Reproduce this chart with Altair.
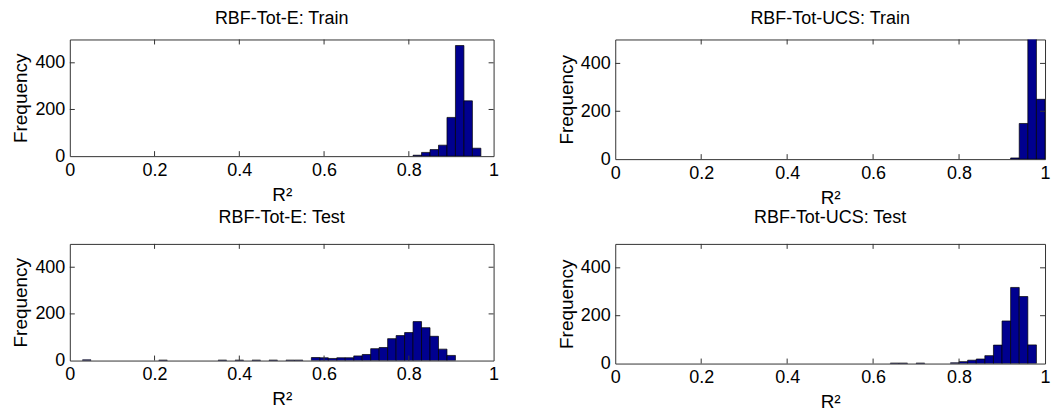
import altair as alt
import pandas as pd

# Histogram bins are 0.02 wide; each list below holds bin centres and counts.
BIN_WIDTH = 0.02

e_train_centers = [0.82, 0.84, 0.86, 0.88, 0.90, 0.92, 0.94, 0.96]
e_train_counts = [4, 16, 28, 47, 166, 474, 237, 34]

ucs_train_centers = [0.93, 0.95, 0.97, 0.99]
ucs_train_counts = [5, 149, 595, 250]

e_test_centers = [0.04, 0.22, 0.36, 0.40, 0.44, 0.48, 0.52, 0.54,
                  0.58, 0.60, 0.62, 0.64, 0.66, 0.68, 0.70, 0.72, 0.74,
                  0.76, 0.78, 0.80, 0.82, 0.84, 0.86, 0.88, 0.90]
e_test_counts = [3, 2, 2, 2, 2, 2, 2, 2,
                 13, 12, 9, 12, 12, 20, 26, 51, 56,
                 94, 107, 120, 167, 141, 104, 49, 22]

ucs_test_centers = [0.65, 0.67, 0.71, 0.79, 0.81, 0.83, 0.85, 0.87,
                    0.89, 0.91, 0.93, 0.95, 0.97]
ucs_test_counts = [2, 2, 2, 3, 8, 14, 19, 33, 77, 178, 318, 280, 78]

x_ticks = [0, 0.2, 0.4, 0.6, 0.8, 1]
y_ticks = [0, 200, 400]

BAR_COLOR = "#00008F"
FONT = "Liberation Sans"
TICK_LEN = 5


def panel(title, centers, counts, w, h, title_offset):
    df = pd.DataFrame({"center": centers, "count": counts})
    df["lo"] = df["center"] - BIN_WIDTH / 2
    df["hi"] = df["center"] + BIN_WIDTH / 2

    xs = alt.Scale(domain=[0, 1], nice=False, zero=False)
    ys = alt.Scale(domain=[0, 500], nice=False)
    x_axis = alt.Axis(values=x_ticks, format="~g", title="R²")
    y_axis = alt.Axis(values=y_ticks, title="Frequency")

    bars = alt.Chart(df).mark_bar(
        color=BAR_COLOR, stroke="black", strokeWidth=0.7, clip=True
    ).encode(
        x=alt.X("lo:Q", scale=xs, axis=x_axis),
        x2="hi:Q",
        y=alt.Y("count:Q", scale=ys, axis=y_axis),
        y2=alt.datum(0),
    )

    # Inward tick marks on all four sides of the box
    xt = pd.DataFrame({"t": x_ticks[1:-1]})
    yt = pd.DataFrame({"t": y_ticks[1:]})
    tick_style = dict(color="#333333", strokeWidth=1)
    xb = alt.Chart(xt).mark_rule(**tick_style).encode(
        x=alt.X("t:Q", scale=xs, axis=x_axis),
        y=alt.value(h), y2=alt.value(h - TICK_LEN))
    xtop = alt.Chart(xt).mark_rule(**tick_style).encode(
        x=alt.X("t:Q", scale=xs, axis=x_axis),
        y=alt.value(0), y2=alt.value(TICK_LEN))
    yl = alt.Chart(yt).mark_rule(**tick_style).encode(
        y=alt.Y("t:Q", scale=ys, axis=y_axis),
        x=alt.value(0), x2=alt.value(TICK_LEN))
    yr = alt.Chart(yt).mark_rule(**tick_style).encode(
        y=alt.Y("t:Q", scale=ys, axis=y_axis),
        x=alt.value(w - TICK_LEN), x2=alt.value(w))

    return alt.layer(bars, xb, xtop, yl, yr).properties(
        width=w, height=h,
        title=alt.TitleParams(title, fontSize=18, fontWeight="normal",
                              font=FONT, color="black", offset=title_offset),
    )


p1 = panel("RBF-Tot-E: Train", e_train_centers, e_train_counts, 425, 117, 11)
p2 = panel("RBF-Tot-UCS: Train", ucs_train_centers, ucs_train_counts, 431, 120, 11)
p3 = panel("RBF-Tot-E: Test", e_test_centers, e_test_counts, 425, 117, 16)
p4 = panel("RBF-Tot-UCS: Test", ucs_test_centers, ucs_test_counts, 431, 120, 16)

chart = alt.concat(
    p1, p2, p3, p4, columns=2, bounds="flush",
    spacing={"row": 85, "column": 122},
).properties(
    padding={"left": 11, "top": 9, "right": 0, "bottom": 0},
    background="white",
).configure_view(
    stroke="#333333", strokeWidth=1
).configure_axis(
    domain=False, ticks=False, grid=False,
    labelFont=FONT, labelFontSize=18, labelColor="black", labelPadding=5,
    titleFont=FONT, titleFontSize=19, titleFontWeight="normal",
    titleColor="black", labelFlush=False, labelOverlap=False,
).configure_axisX(
    titlePadding=6, labelPadding=5
).configure_axisY(
    titlePadding=4, labelPadding=5
)

chart.save("out.html", embed_options={"renderer": "svg", "actions": False})
